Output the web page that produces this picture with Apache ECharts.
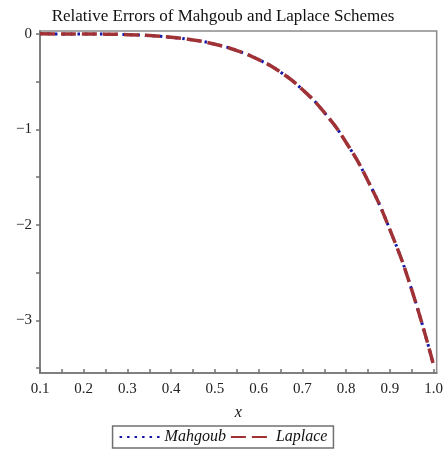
<!DOCTYPE html>
<html><head><meta charset="utf-8">
<script src="https://cdn.jsdelivr.net/npm/echarts@6/dist/echarts.min.js"></script>
<style>html,body{margin:0;padding:0;background:#fff}#c{width:446px;height:449px}</style>
</head><body><div id="c"></div>
<script>
const xValues = [0.1,0.15,0.2,0.25,0.3,0.35,0.4,0.45,0.5,0.55,0.6,0.65,0.7,0.75,0.8,0.85,0.9,0.95,1.0];
const mahgoub = [0,-0.0003,-0.001,-0.003,-0.008,-0.018,-0.036,-0.064,-0.108,-0.175,-0.27,-0.40,-0.583,-0.823,-1.137,-1.54,-2.05,-2.68,-3.47];
const laplace = [0,-0.0003,-0.001,-0.003,-0.008,-0.018,-0.036,-0.064,-0.108,-0.175,-0.27,-0.40,-0.583,-0.823,-1.137,-1.54,-2.05,-2.68,-3.47];
const xTicks = [0.1,0.2,0.3,0.4,0.5,0.6,0.7,0.8,0.9,1.0];
const xMinorTicks = [0.1,0.15,0.2,0.25,0.3,0.35,0.4,0.45,0.5,0.55,0.6,0.65,0.7,0.75,0.8,0.85,0.9,0.95,1.0];
const yTicks = [0,-1,-2,-3];
const yMinorTicks = [0,-0.5,-1,-1.5,-2,-2.5,-3,-3.5];
const seriesNames = ['Mahgoub','Laplace'];

const font = '"Liberation Serif","Times New Roman",serif';
const chart = echarts.init(document.getElementById('c'));
chart.setOption({
  animation:false,
  backgroundColor:'#fff',
  title:{text:'Relative Errors of Mahgoub and Laplace Schemes',left:'center',top:3,
    textStyle:{fontFamily:font,fontSize:17,fontWeight:'normal',color:'#111'}},
  grid:{left:40,right:9,top:31,bottom:76,show:true,borderColor:'#8a8a8a',borderWidth:1.5},
  legend:{bottom:1,left:'center',data:seriesNames,itemWidth:40,itemHeight:10,itemGap:4,
    borderColor:'#707070',borderWidth:1.5,padding:[3,6,3,6],
    itemStyle:{opacity:0,borderWidth:0},
    textStyle:{fontFamily:font,fontSize:16,fontStyle:'italic',color:'#111'}},
  xAxis:{type:'value',min:0.1,max:1.007,name:'x',nameLocation:'middle',nameGap:32,
    nameTextStyle:{fontFamily:font,fontSize:16,fontStyle:'italic',color:'#111'},
    axisLine:{onZero:false,lineStyle:{color:'#808080',width:2}},
    axisTick:{inside:true,length:4,customValues:xMinorTicks,lineStyle:{color:'#707070',width:1.5}},
    axisLabel:{customValues:xTicks,margin:9,fontFamily:font,fontSize:15,color:'#222',formatter:v=>v.toFixed(1)},
    splitLine:{show:false}},
  yAxis:{type:'value',min:-3.55,max:0.03,
    axisLine:{show:true,lineStyle:{color:'#808080',width:2}},
    axisTick:{show:true,length:4,customValues:yMinorTicks,lineStyle:{color:'#707070',width:1.5}},
    axisLabel:{customValues:yTicks,margin:8,fontFamily:font,fontSize:15,color:'#222',
      formatter:v=>v<0?'\u2212'+Math.abs(v):String(v)},
    splitLine:{show:false}},
  series:[
    {name:'Mahgoub',type:'line',smooth:true,showSymbol:false,symbol:'none',
      data:xValues.map((x,i)=>[x,mahgoub[i]]),
      lineStyle:{color:'#1515a8',width:3,type:[2.5,5]},itemStyle:{color:'#1515a8'},z:2},
    {name:'Laplace',type:'line',smooth:true,showSymbol:false,symbol:'none',
      data:xValues.map((x,i)=>[x,laplace[i]]),
      lineStyle:{color:'#a03236',width:3.5,type:[15,6]},itemStyle:{color:'#a03236'},z:3}
  ]
});
</script></body></html>
